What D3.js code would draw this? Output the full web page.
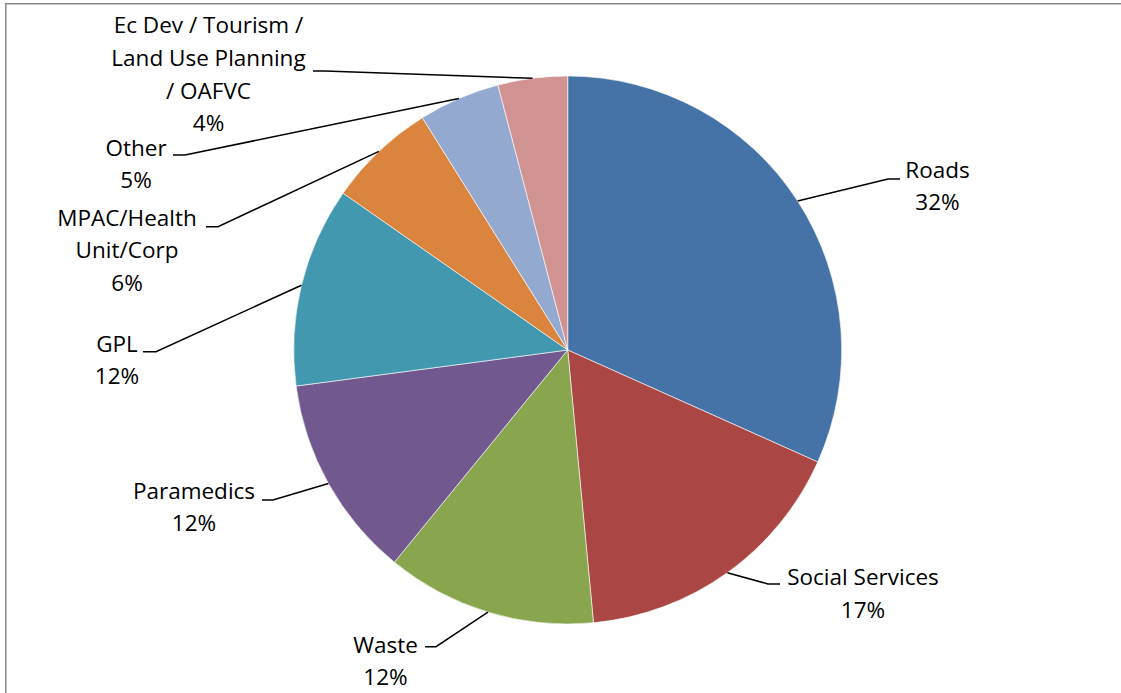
<!DOCTYPE html>
<html>
<head>
<meta charset="utf-8">
<script src="https://cdn.jsdelivr.net/npm/d3@7/dist/d3.min.js"></script>
<style>
  html, body { margin: 0; padding: 0; background: #ffffff; }
  svg { display: block; }
  .lbl { font-family: "Open Sans", Lato, sans-serif; font-size: 22.5px; fill: #000; }
</style>
</head>
<body>
<svg id="chart" width="1121" height="693"></svg>
<script>
// Budget share by service area (per cent), clockwise from 12 o'clock
const categories = [
  "Roads",
  "Social Services",
  "Waste",
  "Paramedics",
  "GPL",
  "MPAC/Health Unit/Corp",
  "Other",
  "Ec Dev / Tourism / Land Use Planning / OAFVC"
];
const shares = [31.7, 16.8, 12.4, 12.0, 11.8, 6.4, 4.8, 4.1];

// Label text broken into lines as it is set beside the pie
const labelLines = [
  ["Roads"],
  ["Social Services"],
  ["Waste"],
  ["Paramedics"],
  ["GPL"],
  ["MPAC/Health", "Unit/Corp"],
  ["Other"],
  ["Ec Dev / Tourism /", "Land Use Planning", "/ OAFVC"]
];

const colors = ["#4572A7", "#AA4643", "#89A54E", "#71588F", "#4198AF", "#DB843D", "#93A9CF", "#D19392"];

// Label placement: text centre x, first baseline y, and the short
// horizontal tail of the leader line (from x0 to x1 at y)
const labelLayout = [
  { cx: 937.5, by: 177.5, tail: [888, 900, 179] },
  { cx: 863,   by: 585,   tail: [768, 780, 584] },
  { cx: 385.5, by: 652.7, tail: [436, 425, 646.7] },
  { cx: 194,   by: 498.5, tail: [273, 262, 500] },
  { cx: 117,   by: 351.7, tail: [156, 143, 351.7] },
  { cx: 127,   by: 225.7, tail: [218, 206, 226.7] },
  { cx: 136,   by: 155.5, tail: [185, 173, 155] },
  { cx: 208.5, by: 33.3,  tail: [325, 313, 71] }
];
const lineStep = 32.7;

const svg = d3.select("#chart");

// Chart area frame
svg.append("rect")
  .attr("x", 5.75).attr("y", 3.75)
  .attr("width", 1200).attr("height", 800)
  .attr("fill", "none")
  .attr("stroke", "#878787")
  .attr("stroke-width", 1.5);

const cx = 567.7, cy = 350, radius = 274;

const total = d3.sum(shares);
const pie = d3.pie().sort(null).value(d => d)(shares);
const arc = d3.arc().innerRadius(0).outerRadius(radius);

const g = svg.append("g").attr("transform", `translate(${cx},${cy})`);

g.selectAll("path.slice")
  .data(pie)
  .join("path")
  .attr("class", "slice")
  .attr("d", arc)
  .attr("fill", (d, i) => colors[i])
  .attr("stroke", "#ffffff")
  .attr("stroke-width", 0.6)
  .attr("stroke-linejoin", "round");

// Leader lines: from the rim at each slice's mid angle to the label tail
const edgePoint = d => {
  const a = (d.startAngle + d.endAngle) / 2;
  return [cx + radius * Math.sin(a), cy - radius * Math.cos(a)];
};

svg.selectAll("polyline.leader")
  .data(pie)
  .join("polyline")
  .attr("class", "leader")
  .attr("points", (d, i) => {
    const p = edgePoint(d);
    const t = labelLayout[i].tail;
    return [p, [t[0], t[2]], [t[1], t[2]]].map(q => q.join(",")).join(" ");
  })
  .attr("fill", "none")
  .attr("stroke", "#000")
  .attr("stroke-width", 1.5);

// Labels: category name lines followed by the rounded percentage
const pct = d3.format(".0f");
const labels = svg.selectAll("text.lbl")
  .data(pie)
  .join("text")
  .attr("class", "lbl")
  .attr("text-anchor", "middle");

labels.each(function (d, i) {
  const lay = labelLayout[i];
  const lines = labelLines[i].concat([pct(d.data / total * 100) + "%"]);
  d3.select(this).selectAll("tspan")
    .data(lines)
    .join("tspan")
    .attr("x", lay.cx)
    .attr("y", (s, k) => lay.by + k * lineStep)
    .text(s => s);
});
</script>
</body>
</html>
